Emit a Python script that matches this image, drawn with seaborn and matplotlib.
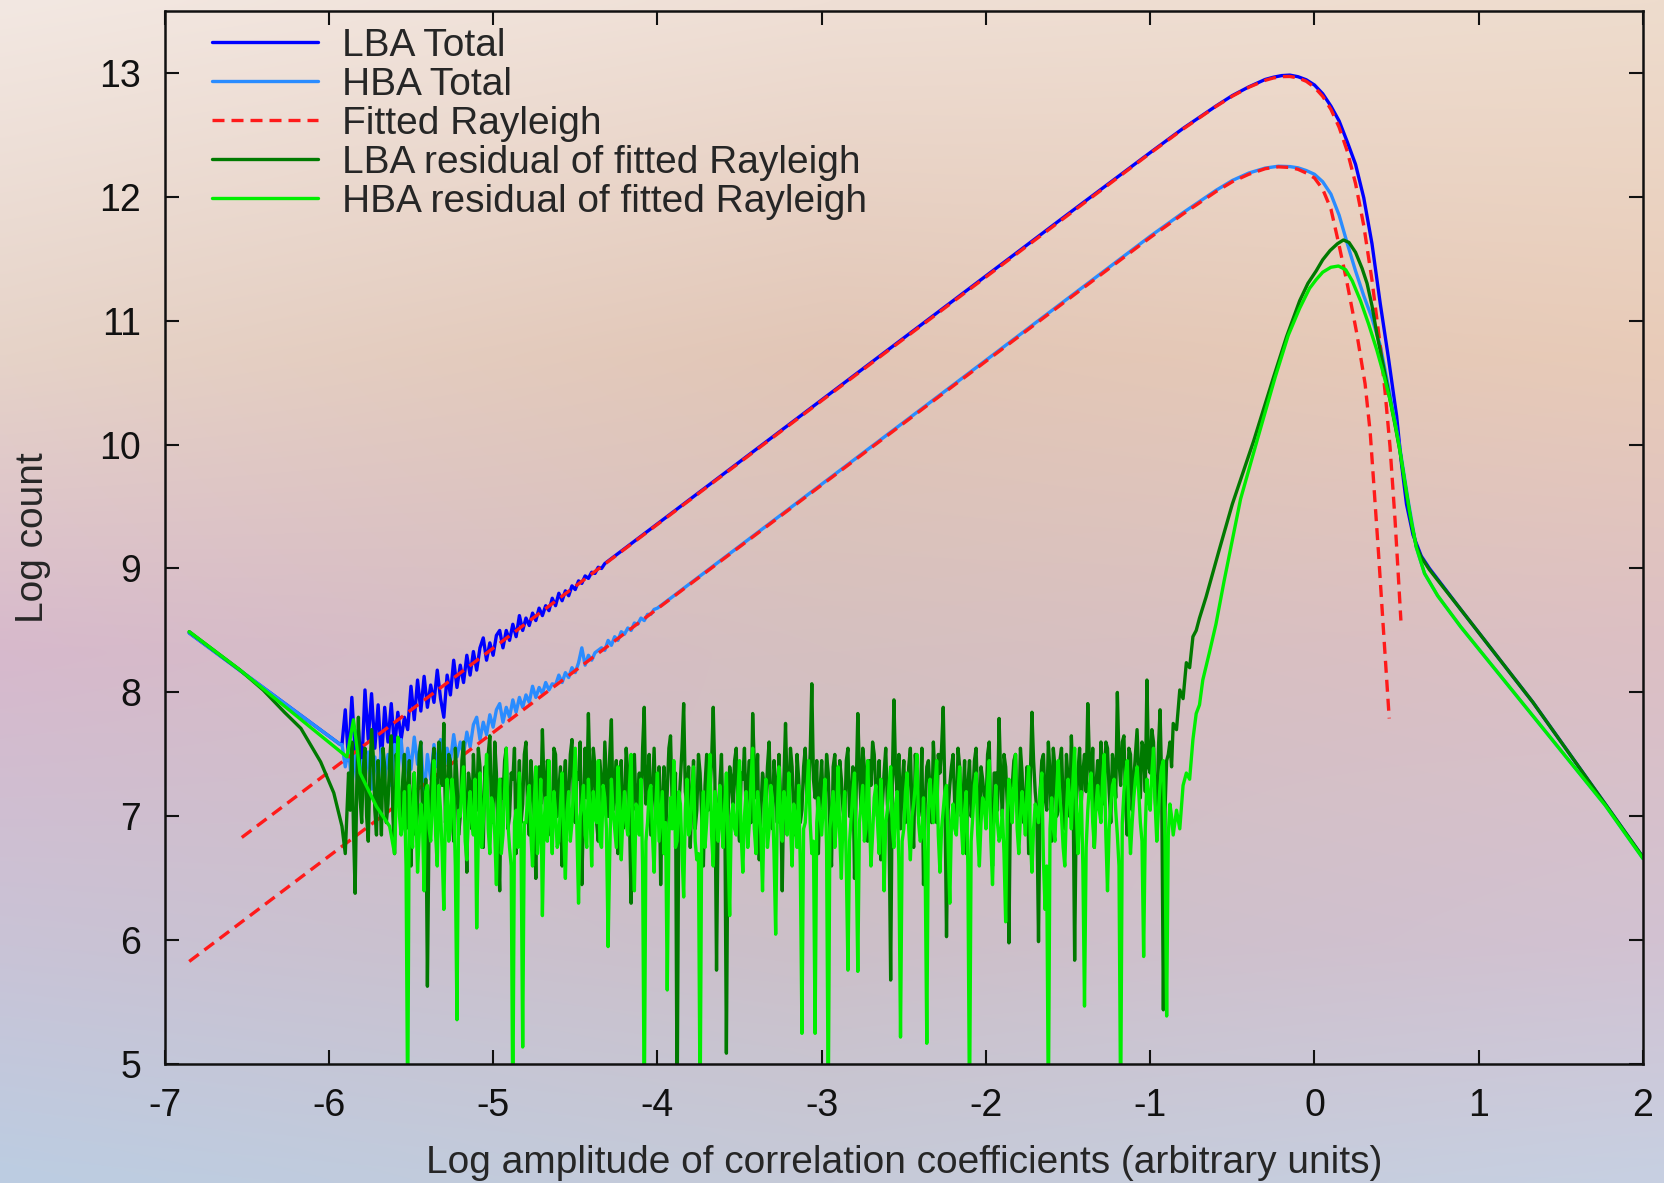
import numpy as np
import pandas as pd
import matplotlib
matplotlib.use("Agg")
import matplotlib.pyplot as plt
from matplotlib.lines import Line2D
import seaborn as sns

# ---------------------------------------------------------------- data
STEP = 0.02

# LBA total histogram
lba_total_left_x = [-6.85, -5.93]
lba_total_left_y = [8.48, 7.58]
lba_total_noise_x0 = -5.92
lba_total_noise_y = [
    7.58, 7.86, 7.45, 7.96, 7.52, 7.70, 7.38, 8.02, 7.62, 7.99,
    7.55, 7.90, 7.45, 7.88, 7.60, 7.91, 7.55, 7.84, 7.62, 7.80,
    7.70, 8.05, 7.78, 8.10, 7.85, 8.13, 7.88, 8.06, 7.92, 8.18,
    7.95, 7.80, 8.14, 7.98, 8.26, 8.04, 8.22, 8.08, 8.30, 8.14,
    8.33, 8.18, 8.36, 8.44, 8.26, 8.40, 8.30, 8.46, 8.50, 8.36,
    8.50, 8.42, 8.55, 8.45, 8.62, 8.50, 8.60, 8.54, 8.64, 8.58,
    8.68, 8.62, 8.70, 8.66, 8.76, 8.70, 8.80, 8.74, 8.82, 8.78,
    8.86, 8.83, 8.90, 8.88, 8.94, 8.92, 8.97, 8.96, 9.01, 9.00,
    9.04, 9.06,
]
lba_total_right_x = [-4.2, -3.0, -2.0, -1.5, -1.0, -0.8, -0.6, -0.5, -0.4, -0.3,
                     -0.25, -0.2, -0.15, -0.1, -0.05, 0.0, 0.05, 0.1, 0.15, 0.2,
                     0.25, 0.3, 0.35, 0.4, 0.45, 0.5, 0.53, 0.56, 0.6, 0.65,
                     0.70, 0.89, 1.33, 1.77, 2.0]
lba_total_right_y = [9.16, 10.36, 11.36, 11.86, 12.355, 12.55, 12.73, 12.815, 12.885, 12.945,
                     12.963, 12.976, 12.98, 12.967, 12.942, 12.90, 12.83, 12.73, 12.61, 12.44,
                     12.26, 11.99, 11.62, 11.14, 10.70, 10.23, 9.84, 9.52, 9.27, 9.10,
                     9.00, 8.67, 7.92, 7.10, 6.67]

# HBA total histogram
hba_total_left_x = [-6.85, -5.93]
hba_total_left_y = [8.48, 7.58]
hba_total_noise_x0 = -5.92
hba_total_noise_y = [
    7.58, 7.40, 7.55, 7.25, 7.50, 7.20, 7.45, 7.30, 7.52, 7.22,
    7.48, 7.28, 7.55, 7.30, 7.50, 7.25, 7.58, 7.35, 7.62, 7.30,
    7.55, 7.38, 7.64, 7.42, 7.60, 7.15, 7.50, 7.30, 7.58, 7.40,
    7.62, 7.36, 7.55, 7.44, 7.66, 7.48, 7.60, 7.50, 7.68, 7.56,
    7.74, 7.80, 7.62, 7.76, 7.66, 7.82, 7.72, 7.86, 7.91, 7.76,
    7.88, 7.80, 7.94, 7.84, 7.96, 7.88, 7.98, 7.92, 8.05, 7.96,
    8.04, 7.99, 8.08, 8.02, 8.07, 8.06, 8.14, 8.08, 8.16, 8.12,
    8.20, 8.16, 8.24, 8.36, 8.22, 8.30, 8.26, 8.32, 8.34, 8.36,
    8.34, 8.42, 8.38, 8.45, 8.42, 8.49, 8.47, 8.52, 8.50, 8.56,
    8.55, 8.60, 8.58, 8.63, 8.63, 8.67, 8.68,
]
hba_total_right_x = [-3.9, -3.0, -2.0, -1.0, -0.8, -0.6, -0.5, -0.4, -0.3, -0.22,
                     -0.15, -0.1, -0.05, 0.0, 0.05, 0.1, 0.15, 0.2, 0.25, 0.3,
                     0.35, 0.40, 0.46, 0.52, 0.57, 0.62, 0.67, 0.75, 0.89, 1.33,
                     1.77, 2.0]
hba_total_right_y = [8.78, 9.68, 10.68, 11.68, 11.87, 12.05, 12.13, 12.19, 12.23, 12.245,
                     12.242, 12.232, 12.21, 12.18, 12.12, 12.02, 11.85, 11.62, 11.40, 11.20,
                     11.02, 10.80, 10.40, 9.97, 9.55, 9.17, 8.96, 8.78, 8.53, 7.81,
                     7.09, 6.66]

# Fitted Rayleigh curves
lba_fit_x = [-6.53, -1.0, -0.8, -0.6, -0.5, -0.4, -0.3, -0.25, -0.2, -0.15,
             -0.1, -0.05, 0.0, 0.05, 0.1, 0.15, 0.2, 0.25, 0.3, 0.35,
             0.4, 0.43, 0.46, 0.49, 0.51, 0.526]
lba_fit_y = [6.83, 12.35, 12.545, 12.727, 12.81, 12.882, 12.938, 12.957, 12.968, 12.969,
             12.957, 12.93, 12.882, 12.809, 12.704, 12.559, 12.364, 12.105, 11.766, 11.326,
             10.80, 10.42, 9.98, 9.40, 8.95, 8.58]
hba_fit_x = [-6.85, -1.0, -0.8, -0.6, -0.5, -0.4, -0.3, -0.22, -0.15, -0.1,
             -0.05, 0.0, 0.05, 0.1, 0.146, 0.196, 0.257, 0.308, 0.339, 0.36,
             0.39, 0.42, 0.455]
hba_fit_y = [5.83, 11.67, 11.86, 12.04, 12.12, 12.18, 12.225, 12.24, 12.235, 12.22,
             12.19, 12.15, 12.06, 11.90, 11.63, 11.32, 10.90, 10.49, 10.10, 9.70,
             9.12, 8.50, 7.79]

# LBA residual of fitted Rayleigh: samples every 0.02, plus the in-between samples
lba_res_left_x = [-6.85, -6.54, -6.40, -6.27, -6.17, -6.05, -5.97, -5.92, -5.90]
lba_res_left_y = [8.49, 8.18, 8.02, 7.84, 7.71, 7.44, 7.19, 6.92, 6.70]
lba_res_noise_x0 = -5.88
lba_res_noise_y = [
    7.35, 7.60, 6.38, 7.80, 6.95, 7.55, 6.80, 7.70, 7.05, 7.45,
    6.85, 7.40, 7.10, 7.65, 6.70, 7.30, 6.95, 7.50, 7.15, 6.60,
    7.35, 7.05, 7.60, 6.90, 5.63, 7.20, 7.55, 6.95, 7.40, 7.75,
    7.10, 7.45, 6.80, 7.30, 7.00, 7.60, 6.55, 7.25, 7.50, 7.05,
    7.40, 6.75, 7.20, 7.65, 6.95, 7.35, 6.40, 7.15, 7.55, 7.00,
    7.30, 6.70, 7.45, 7.10, 7.60, 6.85, 7.25, 6.50, 7.40, 7.70,
    7.05, 7.35, 6.90, 7.50, 7.20, 6.60, 7.45, 7.15, 7.62, 6.95,
    7.30, 6.45, 7.55, 7.83, 7.10, 7.40, 6.80, 7.25, 7.60, 7.00,
    7.78, 7.20, 6.70, 7.45, 7.05, 7.35, 6.30, 7.50, 7.15, 6.90,
    7.88, 7.25, 6.85, 7.55, 7.00, 6.45, 7.40, 7.20, 7.65, 6.95,
    4.60, 7.30, 7.91, 7.10, 6.75, 7.45, 7.05, 7.35, 6.60, 7.50,
    7.20, 7.88, 5.76, 7.25, 6.90, 5.09, 7.40, 7.10, 7.55, 6.80,
    7.30, 7.00, 7.45, 7.83, 7.15, 6.65, 7.35, 7.05, 7.60, 6.90,
    7.25, 7.50, 6.40, 7.75, 7.10, 7.40, 6.85, 7.30, 7.05, 7.55,
    7.20, 8.07, 7.15, 6.70, 7.45, 7.10, 7.35, 6.60, 7.50, 7.00,
    7.30, 6.95, 7.55, 7.15, 6.50, 7.83, 7.05, 7.40, 6.80, 7.25,
    7.50, 7.00, 6.65, 7.35, 7.10, 5.68, 7.94, 7.20, 6.90, 7.45,
    7.05, 7.55, 6.75, 7.30, 7.10, 6.45, 7.40, 7.20, 7.60, 6.95,
    7.35, 7.88, 6.03, 7.25, 7.50, 6.90, 7.40, 7.10, 6.70, 7.45,
    7.15, 7.55, 6.85, 7.30, 7.05, 7.60, 6.60, 7.35, 7.79, 7.00,
    7.40, 5.98, 7.25, 7.50, 6.95, 7.35, 7.10, 6.70, 7.84, 7.20,
    5.99, 7.45, 7.15, 7.60, 6.80, 7.40, 7.05, 7.55, 6.90, 7.30,
    7.65, 5.84, 7.35, 7.10, 7.50, 7.91, 7.20, 6.75, 7.45, 7.60,
    7.10, 7.55, 6.95, 7.40, 8.00, 7.25, 7.65, 6.85, 7.50, 7.30,
    7.70, 7.15, 7.55, 8.10, 7.35, 7.60, 6.95, 7.86, 5.44, 7.45,
    7.60, 7.75,
]
lba_res_noise_mid_y = [
    7.05, 6.90, 7.25, 7.15, 7.40, 7.00, 7.35, 7.50, 6.85, 7.20,
    7.55, 6.95, 7.45, 7.00, 7.50, 7.15, 7.30, 6.90, 7.45, 7.10,
    6.85, 7.50, 7.00, 7.30, 6.95, 7.40, 7.05, 7.60, 7.25, 6.95,
    7.50, 7.05, 7.55, 6.85, 7.45, 7.10, 7.35, 6.90, 7.20, 7.55,
    7.00, 7.40, 7.50, 7.05, 7.60, 6.80, 7.30, 7.45, 6.90, 7.35,
    7.55, 7.15, 6.95, 7.50, 7.05, 7.45, 7.00, 7.30, 7.10, 7.25,
    7.45, 6.85, 7.55, 7.00, 7.40, 7.25, 6.95, 7.50, 7.05, 7.35,
    7.60, 7.05, 7.15, 7.30, 7.55, 6.95, 7.45, 7.05, 7.30, 7.50,
    7.05, 7.45, 7.20, 6.90, 7.55, 7.00, 7.40, 7.05, 7.35, 7.55,
    7.10, 7.50, 7.20, 7.05, 7.40, 7.15, 6.85, 7.55, 7.10, 7.35,
    7.05, 7.55, 7.20, 7.40, 7.15, 6.90, 7.50, 7.00, 7.25, 7.05,
    7.45, 7.30, 7.05, 7.50, 7.15, 7.00, 7.30, 7.45, 6.95, 7.35,
    7.55, 7.25, 6.95, 7.40, 7.50, 7.05, 7.25, 7.40, 7.10, 7.45,
    6.95, 7.15, 7.30, 7.20, 7.55, 7.00, 7.50, 6.95, 7.40, 7.15,
    7.50, 7.30, 7.45, 7.20, 7.05, 7.50, 6.90, 7.40, 7.15, 7.45,
    7.05, 7.45, 7.00, 7.40, 7.20, 7.35, 7.55, 7.00, 7.45, 7.60,
    7.20, 7.45, 7.10, 7.55, 6.95, 7.30, 7.35, 7.50, 7.25, 6.95,
    7.40, 7.05, 7.50, 7.00, 7.55, 7.10, 7.45, 6.95, 7.30, 7.50,
    7.55, 7.20, 7.05, 7.40, 7.10, 7.55, 7.00, 7.45, 7.25, 7.00,
    7.45, 7.10, 7.40, 7.15, 7.50, 6.95, 7.35, 7.05, 7.30, 7.50,
    7.10, 7.25, 7.45, 7.05, 7.55, 6.95, 7.40, 7.30, 7.45, 7.05,
    7.20, 7.50, 7.05, 7.35, 7.55, 7.00, 7.45, 7.10, 7.50, 7.00,
    7.30, 7.10, 7.55, 7.35, 7.20, 7.45, 7.55, 7.25, 7.05, 7.40,
    7.60, 7.20, 7.50, 7.15, 7.45, 7.60, 7.10, 7.55, 7.05, 7.50,
    7.35, 7.60, 7.20, 7.40, 7.70, 7.15, 7.55, 7.25, 7.05, 7.50,
    7.40,
]
lba_res_right_x = [-0.84, -0.82, -0.80, -0.78, -0.76, -0.74, -0.72, -0.70, -0.66, -0.58,
                   -0.50, -0.37, -0.25, -0.17, -0.09, -0.04, 0.01, 0.05, 0.095, 0.14,
                   0.176, 0.21, 0.25, 0.29, 0.32, 0.35, 0.38, 0.42, 0.46, 0.49,
                   0.52, 0.56, 0.59, 0.62, 0.65, 0.70, 0.89, 1.33, 1.77, 2.0]
lba_res_right_y = [7.70, 8.02, 7.95, 8.24, 8.20, 8.45, 8.50, 8.60, 8.77, 9.15,
                   9.52, 10.03, 10.54, 10.87, 11.16, 11.30, 11.40, 11.49, 11.565, 11.62,
                   11.65, 11.63, 11.55, 11.42, 11.30, 11.12, 10.89, 10.63, 10.36, 10.16,
                   9.95, 9.60, 9.36, 9.18, 9.09, 8.99, 8.67, 7.92, 7.10, 6.67]

# HBA residual of fitted Rayleigh: samples every 0.02, plus the in-between samples
hba_res_left_x = [-6.85, -6.54, -5.89, -5.85, -5.81, -5.71, -5.63]
hba_res_left_y = [8.49, 8.18, 7.48, 7.78, 7.35, 7.08, 6.92]
hba_res_noise_x0 = -5.60
hba_res_noise_y = [
    6.70, 7.64, 6.85, 7.20, 4.60, 6.90, 7.35, 6.55, 7.10, 6.40,
    7.25, 6.80, 7.45, 6.60, 7.05, 6.25, 7.30, 6.90, 7.15, 5.36,
    7.00, 7.40, 6.65, 7.20, 6.85, 6.10, 7.35, 6.95, 7.50, 6.70,
    7.10, 6.45, 7.30, 6.85, 7.55, 6.75, 4.60, 7.05, 7.35, 5.14,
    6.95, 7.25, 6.60, 7.40, 6.90, 6.20, 7.15, 7.45, 6.70, 7.05,
    6.80, 7.35, 6.50, 7.20, 6.95, 7.55, 6.30, 7.10, 6.85, 7.30,
    6.60, 7.00, 7.45, 6.75, 7.15, 5.95, 7.30, 6.90, 7.40, 6.65,
    7.20, 6.85, 7.50, 6.40, 7.05, 7.30, 4.60, 6.95, 7.25, 6.55,
    7.35, 7.00, 6.70, 5.60, 7.15, 7.45, 6.80, 7.10, 6.35, 7.30,
    6.90, 7.40, 6.65, 4.60, 7.20, 6.95, 7.50, 6.60, 7.05, 7.25,
    6.75, 7.35, 6.20, 7.10, 6.85, 7.45, 6.55, 7.20, 6.95, 7.55,
    6.70, 7.05, 6.40, 7.30, 6.90, 7.15, 6.05, 7.40, 6.80, 7.10,
    7.35, 6.60, 7.00, 7.25, 5.25, 6.95, 7.45, 6.70, 5.25, 7.15,
    6.85, 7.30, 4.60, 7.05, 6.75, 7.40, 6.50, 7.20, 5.76, 7.00,
    7.35, 5.75, 7.10, 6.80, 7.45, 6.60, 7.15, 6.95, 7.30, 6.40,
    7.05, 7.40, 6.75, 7.20, 5.22, 6.90, 7.35, 6.65, 7.10, 7.50,
    6.80, 7.15, 5.17, 7.30, 6.95, 7.45, 6.55, 7.05, 7.25, 6.30,
    7.10, 6.85, 7.40, 6.70, 7.20, 4.60, 7.00, 7.35, 6.60, 7.15,
    6.90, 7.45, 6.45, 7.25, 6.80, 7.05, 6.15, 7.30, 6.95, 7.50,
    6.70, 7.20, 6.85, 7.40, 6.55, 7.10, 6.95, 7.35, 6.25, 4.60,
    7.15, 6.80, 7.45, 7.00, 6.60, 7.30, 6.90, 7.55, 6.70, 7.20,
    5.47, 7.05, 7.35, 6.75, 7.25, 6.95, 7.50, 6.40, 7.10, 7.30,
    6.85, 4.60, 7.20, 7.45, 6.70, 7.15, 7.40, 6.95, 5.87, 7.30,
    7.05, 7.55, 6.80, 7.25, 7.45, 5.39, 7.10, 6.85,
]
hba_res_noise_mid_y = [
    7.15, 7.00, 6.95, 6.60, 7.25, 6.75, 7.05, 6.85, 6.95, 7.20,
    6.90, 7.10, 6.85, 7.25, 6.70, 7.05, 6.80, 7.30, 6.60, 7.05,
    7.25, 6.80, 7.05, 6.95, 7.30, 6.85, 6.75, 7.20, 6.90, 7.15,
    6.85, 7.05, 6.70, 7.20, 6.95, 6.60, 6.95, 6.75, 6.80, 6.95,
    7.15, 6.85, 7.10, 6.70, 7.30, 6.95, 6.80, 7.00, 7.20, 6.75,
    7.10, 6.85, 7.05, 6.80, 7.25, 6.90, 7.00, 7.25, 6.75, 7.05,
    7.20, 6.95, 6.80, 7.25, 6.90, 6.70, 7.05, 6.75, 7.15, 7.00,
    6.95, 7.25, 6.80, 7.10, 6.85, 6.60, 6.80, 7.20, 6.85, 7.10,
    6.80, 7.20, 6.95, 6.85, 6.90, 6.75, 7.20, 6.70, 7.05, 6.85,
    7.20, 6.80, 6.70, 6.95, 6.75, 7.25, 6.85, 7.20, 6.80, 6.95,
    7.10, 6.75, 7.00, 6.90, 7.20, 6.85, 7.00, 6.75, 7.30, 6.90,
    7.20, 6.85, 7.05, 6.75, 7.25, 6.70, 7.05, 6.95, 7.20, 6.85,
    6.95, 7.10, 6.75, 6.60, 6.90, 7.20, 6.95, 6.80, 6.95, 7.00,
    7.10, 6.75, 6.90, 7.20, 6.95, 6.85, 7.00, 6.60, 6.80, 7.20,
    6.70, 6.95, 7.25, 6.90, 7.05, 6.85, 7.25, 6.70, 7.05, 6.95,
    7.25, 6.90, 7.10, 6.60, 6.80, 7.20, 6.90, 7.00, 7.25, 6.95,
    6.85, 6.60, 7.05, 7.10, 7.25, 6.85, 6.90, 7.20, 6.75, 6.95,
    6.90, 7.20, 6.95, 7.05, 6.60, 6.80, 7.25, 6.85, 6.95, 7.10,
    7.25, 6.80, 7.00, 6.95, 6.85, 6.70, 7.00, 7.20, 7.25, 6.90,
    7.00, 7.05, 7.20, 6.85, 6.90, 7.05, 7.20, 6.65, 6.60, 6.90,
    6.90, 7.20, 7.15, 6.75, 7.05, 7.15, 7.30, 7.05, 7.00, 6.60,
    6.75, 7.25, 6.95, 7.10, 7.05, 7.30, 6.85, 6.90, 7.25, 7.05,
    6.60, 6.95, 7.35, 7.00, 6.95, 7.30, 7.20, 6.80, 6.90, 7.15,
    7.35, 7.10, 7.05, 7.40, 6.80, 6.85, 7.00,
]
hba_res_right_x = [-0.84, -0.82, -0.80, -0.78, -0.76, -0.74, -0.72, -0.70, -0.68, -0.64,
                   -0.60, -0.55, -0.45, -0.35, -0.24, -0.16, -0.09, -0.03, 0.01, 0.05,
                   0.10, 0.146, 0.19, 0.23, 0.28, 0.33, 0.38, 0.42, 0.46, 0.49,
                   0.52, 0.55, 0.58, 0.62, 0.67, 0.75, 0.89, 1.33, 1.77, 2.0]
hba_res_right_y = [7.05, 6.90, 7.25, 7.35, 7.30, 7.62, 7.83, 7.90, 8.10, 8.32,
                   8.55, 8.90, 9.56, 10.03, 10.54, 10.88, 11.10, 11.26, 11.33, 11.39,
                   11.43, 11.44, 11.41, 11.32, 11.16, 10.97, 10.76, 10.57, 10.36, 10.17,
                   9.95, 9.70, 9.45, 9.17, 8.96, 8.78, 8.53, 7.81, 7.09, 6.66]

x_ticks = list(range(-7, 3))
y_ticks = list(range(5, 14))
legend_labels = ["LBA Total", "HBA Total", "Fitted Rayleigh",
                 "LBA residual of fitted Rayleigh", "HBA residual of fitted Rayleigh"]
x_label = "Log amplitude of correlation coefficients (arbitrary units)"
y_label = "Log count"


def build_series(left_x, left_y, x0, noise_y, right_x, right_y, mid_y=None):
    noise_y = np.asarray(noise_y, dtype=float)
    if mid_y is None:
        nx = x0 + STEP * np.arange(len(noise_y))
        ny = noise_y
    else:
        # interleave the on-grid samples with the half-step samples
        n = len(noise_y)
        ny = np.empty(2 * n - 1)
        ny[0::2] = noise_y
        ny[1::2] = mid_y
        nx = x0 + 0.5 * STEP * np.arange(2 * n - 1)
    x = np.concatenate([left_x, nx, right_x])
    y = np.concatenate([left_y, ny, right_y])
    return pd.DataFrame({"x": x, "y": y})


lba_total = build_series(lba_total_left_x, lba_total_left_y, lba_total_noise_x0,
                         lba_total_noise_y, lba_total_right_x, lba_total_right_y)
hba_total = build_series(hba_total_left_x, hba_total_left_y, hba_total_noise_x0,
                         hba_total_noise_y, hba_total_right_x, hba_total_right_y)
lba_res = build_series(lba_res_left_x, lba_res_left_y, lba_res_noise_x0,
                       lba_res_noise_y, lba_res_right_x, lba_res_right_y,
                       lba_res_noise_mid_y)
hba_res = build_series(hba_res_left_x, hba_res_left_y, hba_res_noise_x0,
                       hba_res_noise_y, hba_res_right_x, hba_res_right_y,
                       hba_res_noise_mid_y)
lba_fit = pd.DataFrame({"x": lba_fit_x, "y": lba_fit_y})
hba_fit = pd.DataFrame({"x": hba_fit_x, "y": hba_fit_y})

# ---------------------------------------------------------------- style
sns.set_style("ticks")
plt.rcParams["font.family"] = ["Liberation Sans", "DejaVu Sans"]
plt.rcParams["axes.unicode_minus"] = False

C_LBA = "#0000ff"
C_HBA = "#2a8cff"
C_FIT = "#ff1a1a"
C_LRES = "#007a00"
C_HRES = "#00ee00"
LW = 2.4
FIT_LS = (0, (3.6, 2.1))
FS = 28

fig = plt.figure(figsize=(16.64, 11.83), dpi=100)

# soft multi-colour backdrop
def hex_rgb(h):
    h = h.lstrip("#")
    return np.array([int(h[i:i + 2], 16) / 255 for i in (0, 2, 4)])

row_pos = [0.0, 0.3, 0.55, 0.8, 1.0]
grid_cols = [
    ["#f3e8e2", "#efdfd5", "#eedccd"],
    ["#e6d3c8", "#e2c6b6", "#e8cbb8"],
    ["#d7b9cc", "#d5c0c0", "#dcbfc4"],
    ["#c9c3d6", "#ccbfc8", "#d2c2d2"],
    ["#bccde2", "#c6cad8", "#c7d0e2"],
]
H, W = 240, 320
yy = np.linspace(0, 1, H)
xx = np.linspace(0, 1, W)
cols_rgb = np.array([[hex_rgb(c) for c in row] for row in grid_cols])
vert = np.zeros((H, 3, 3))
for c in range(3):
    for k in range(3):
        vert[:, c, k] = np.interp(yy, row_pos, cols_rgb[:, c, k])
img = np.zeros((H, W, 3))
for i in range(H):
    for k in range(3):
        img[i, :, k] = np.interp(xx, [0.0, 0.5, 1.0], vert[i, :, k])
bg = fig.add_axes([0, 0, 1, 1], zorder=-10)
bg.imshow(img, aspect="auto", extent=[0, 1, 0, 1], origin="upper",
          interpolation="bicubic")
bg.axis("off")

ax = fig.add_axes([0.0989, 0.1003, 0.8885, 0.8907])
ax.patch.set_alpha(0)

kw = dict(x="x", y="y", estimator=None, sort=False, ax=ax, legend=False)
sns.lineplot(data=lba_total, color=C_LBA, lw=LW, **kw)
sns.lineplot(data=hba_total, color=C_HBA, lw=LW, **kw)
sns.lineplot(data=lba_fit, color=C_FIT, lw=LW, linestyle=FIT_LS, **kw)
sns.lineplot(data=hba_fit, color=C_FIT, lw=LW, linestyle=FIT_LS, **kw)
sns.lineplot(data=lba_res, color=C_LRES, lw=LW, **kw)
sns.lineplot(data=hba_res, color=C_HRES, lw=LW, **kw)

ax.set_xlim(-7, 2)
ax.set_ylim(5, 13.5)
ax.set_xticks(x_ticks)
ax.set_yticks(y_ticks)
ax.tick_params(direction="in", length=10, width=1.5, top=True, right=True,
               labelsize=27, pad=17, colors="#111111")
for s in ax.spines.values():
    s.set_linewidth(1.8)
    s.set_color("#111111")
ax.set_xlabel(x_label, fontsize=FS, labelpad=15)
ax.set_ylabel(y_label, fontsize=FS, labelpad=35)

handles = [
    Line2D([], [], color=C_LBA, lw=LW),
    Line2D([], [], color=C_HBA, lw=LW),
    Line2D([], [], color=C_FIT, lw=LW, linestyle=FIT_LS),
    Line2D([], [], color=C_LRES, lw=LW),
    Line2D([], [], color=C_HRES, lw=LW),
]
ax.legend(handles, legend_labels, loc="upper left", bbox_to_anchor=(0.032, 0.984),
          frameon=False, fontsize=FS, handlelength=2.73, handletextpad=0.62,
          labelspacing=0.08, borderpad=0, borderaxespad=0)

fig.savefig("out.png", dpi=100)
